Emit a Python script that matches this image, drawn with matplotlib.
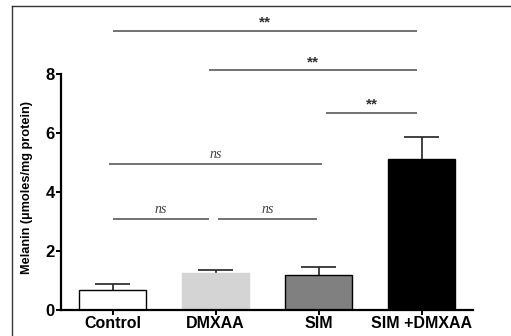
import matplotlib
matplotlib.use("Agg")
import matplotlib.pyplot as plt
import numpy as np
from matplotlib.lines import Line2D

groups = ["Control", "DMXAA", "SIM", "SIM +DMXAA"]
means = [0.67, 1.27, 1.19, 5.13]
errs = [0.21, 0.09, 0.28, 0.75]
colors = ["white", "#d4d4d4", "#808080", "black"]
edges = ["black", "#d4d4d4", "black", "black"]

# comparisons: (x0, x1, height, label)
comparisons = [
    (0.0, 2.96, 9.46, "**"),
    (0.94, 2.96, 8.12, "**"),
    (2.07, 2.96, 6.68, "**"),
    (-0.03, 2.03, 4.96, "ns"),
    (0.0, 0.94, 3.08, "ns"),
    (1.02, 1.99, 3.08, "ns"),
]

sans = "Liberation Sans"
fig = plt.figure(figsize=(5.11, 3.36), dpi=100)
ax = fig.add_axes([61 / 511, 1 - 310 / 336, 412 / 511, 310 / 336])

x = np.arange(len(groups))
tops = np.array(means) + np.array(errs)
ax.vlines(x, means, tops, color="#222222", lw=1.2, zorder=1)
ax.hlines(tops, x - 0.17, x + 0.17, color="#222222", lw=1.2, zorder=1)
ax.bar(x, means, width=0.66, color=colors, edgecolor=edges, linewidth=1.0, zorder=2)

for x0, x1, h, lab in comparisons:
    ax.plot([x0, x1], [h, h], color="#5a5a5a", lw=1.2, solid_capstyle="butt", clip_on=False)
    xm = (x0 + x1) / 2
    if lab == "ns":
        ax.text(xm, h + 0.1, lab, ha="center", va="bottom", fontsize=10,
                family="Liberation Serif", style="italic", color="#444444")
    else:
        ax.text(xm, h + 0.05, lab, ha="center", va="bottom", fontsize=11,
                family=sans, fontweight="bold", color="#333333")

ax.set_xlim(-0.5, 3.5)
ax.set_ylim(0, 10.51)
ax.spines["top"].set_visible(False)
ax.spines["right"].set_visible(False)
ax.spines["left"].set_bounds(0, 8)
ax.spines["left"].set_linewidth(1.6)
ax.spines["bottom"].set_linewidth(1.6)
ax.set_yticks([0, 2, 4, 6, 8])
ax.set_xticks(x)
ax.set_xticklabels(groups, fontsize=11.5, fontweight="bold", family=sans)
ax.set_yticklabels(["0", "2", "4", "6", "8"], fontsize=12, fontweight="bold", family=sans)
ax.tick_params(axis="both", length=3.5, width=1.4, pad=1)
ax.set_ylabel("Melanin (\u00b5moles/mg protein)", fontsize=9.2, fontweight="bold",
              family=sans)
ax.yaxis.set_label_coords(-0.068, 0.395)
ax.patch.set_visible(False)

# outer frame (top and left edges visible)
fig.add_artist(Line2D([12 / 511, 12 / 511], [0, 1 - 6 / 336], transform=fig.transFigure,
                      color="#333333", lw=1.0))
fig.add_artist(Line2D([12 / 511, 1], [1 - 6 / 336, 1 - 6 / 336], transform=fig.transFigure,
                      color="#333333", lw=1.0))

fig.savefig("out.png", dpi=100)
